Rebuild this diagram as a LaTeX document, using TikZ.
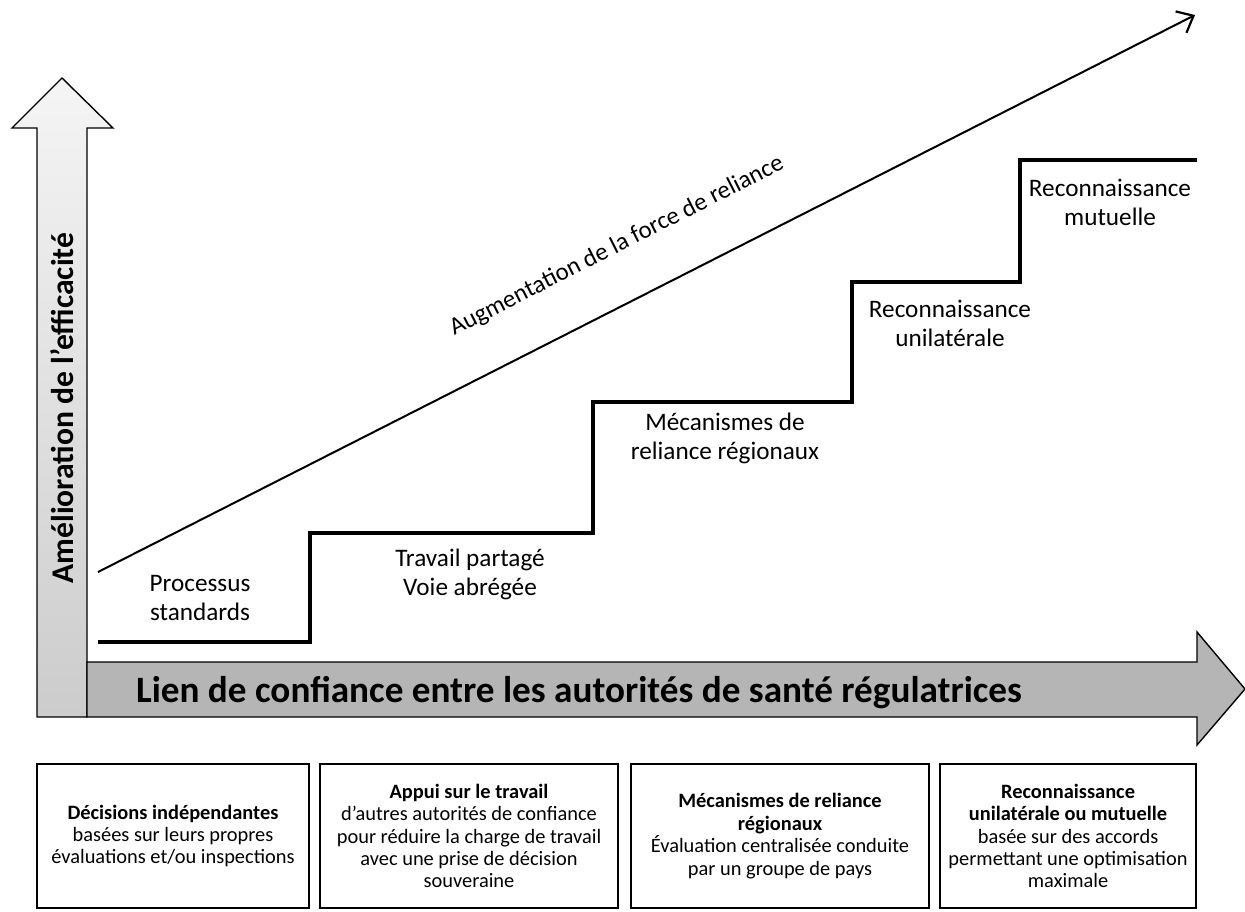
\documentclass[tikz,border=0pt]{standalone}
\usepackage{fontspec}
\setmainfont{Carlito}
\usetikzlibrary{arrows.meta}
\tikzset{
  steplbl/.style={align=center,inner sep=0pt,font=\fontsize{12.6}{14.5}\selectfont},
  infobox/.style={draw,line width=1.3pt,minimum height=72pt,align=center,inner sep=2pt,font=\fontsize{10.2}{11.2}\selectfont},
  bigarrow/.style={draw,line width=0.7pt,line join=miter}
}
\begin{document}
\begin{tikzpicture}[x=0.5pt,y=-0.5pt]
\useasboundingbox (0,0) rectangle (1245,911);
% axes
\draw[bigarrow,top color=gray!8,bottom color=gray!40] (37,717) -- (37,128) -- (12,128) -- (62,78) -- (113,128) -- (87,128) -- (87,717) -- cycle;
\draw[bigarrow,fill=gray!58] (87,662) -- (1197,662) -- (1197,632) -- (1245,689) -- (1197,745) -- (1197,717) -- (87,717) -- cycle;
\node[rotate=90,font=\fontsize{15.8}{18}\selectfont\bfseries,inner sep=0pt] (effic) at (62,408) {Amélioration de l’efficacité};
\node[font=\fontsize{18.6}{21}\selectfont\bfseries,inner sep=0pt] (lien) at (579,693) {Lien de confiance entre les autorités de santé régulatrices};
% diagonal
\coordinate (d0) at (98,572);
\coordinate (d1) at (1195,15);
\draw[line width=1pt,-{Straight Barb[length=7pt,width=12pt,line width=1.1pt]}] (d0) -- (d1)
  node[pos=0.496,sloped,above=22pt,inner sep=0pt,font=\fontsize{12.4}{14.5}\selectfont] (force) {Augmentation de la force de reliance};
% stairs
\coordinate (s0) at (98,642);
\coordinate (s1) at (310,642);
\coordinate (s2) at (310,533);
\coordinate (s3) at (593,533);
\coordinate (s4) at (593,402);
\coordinate (s5) at (852,402);
\coordinate (s6) at (852,282);
\coordinate (s7) at (1020,282);
\coordinate (s8) at (1020,160);
\coordinate (s9) at (1197,160);
\draw[line width=1.6pt] (s0) -- (s1) -- (s2) -- (s3) -- (s4) -- (s5) -- (s6) -- (s7) -- (s8) -- (s9);
\node[steplbl] (proc) at (200,598) {Processus\\standards};
\node[steplbl] (trav) at (470,574) {Travail partagé\\Voie abrégée};
\node[steplbl] (meca) at (725,438) {Mécanismes de\\reliance régionaux};
\node[steplbl] (unil) at (950,323) {Reconnaissance\\unilatérale};
\node[steplbl] (mutu) at (1110,202) {Reconnaissance\\mutuelle};
% boxes
\node[infobox,minimum width=136pt] (box1) at (173,836) {\textbf{Décisions indépendantes}\\basées sur leurs propres\\évaluations et/ou inspections};
\node[infobox,minimum width=149pt] (box2) at (469,836) {\textbf{Appui sur le travail}\\d’autres autorités de confiance\\pour réduire la charge de travail\\avec une prise de décision\\souveraine};
\node[infobox,minimum width=149pt] (box3) at (780,836) {\textbf{Mécanismes de reliance}\\\textbf{régionaux}\\Évaluation centralisée conduite\\par un groupe de pays};
\node[infobox,minimum width=128pt] (box4) at (1068,836) {\textbf{Reconnaissance}\\\textbf{unilatérale ou mutuelle}\\basée sur des accords\\permettant une optimisation\\maximale};
\end{tikzpicture}
\end{document}
